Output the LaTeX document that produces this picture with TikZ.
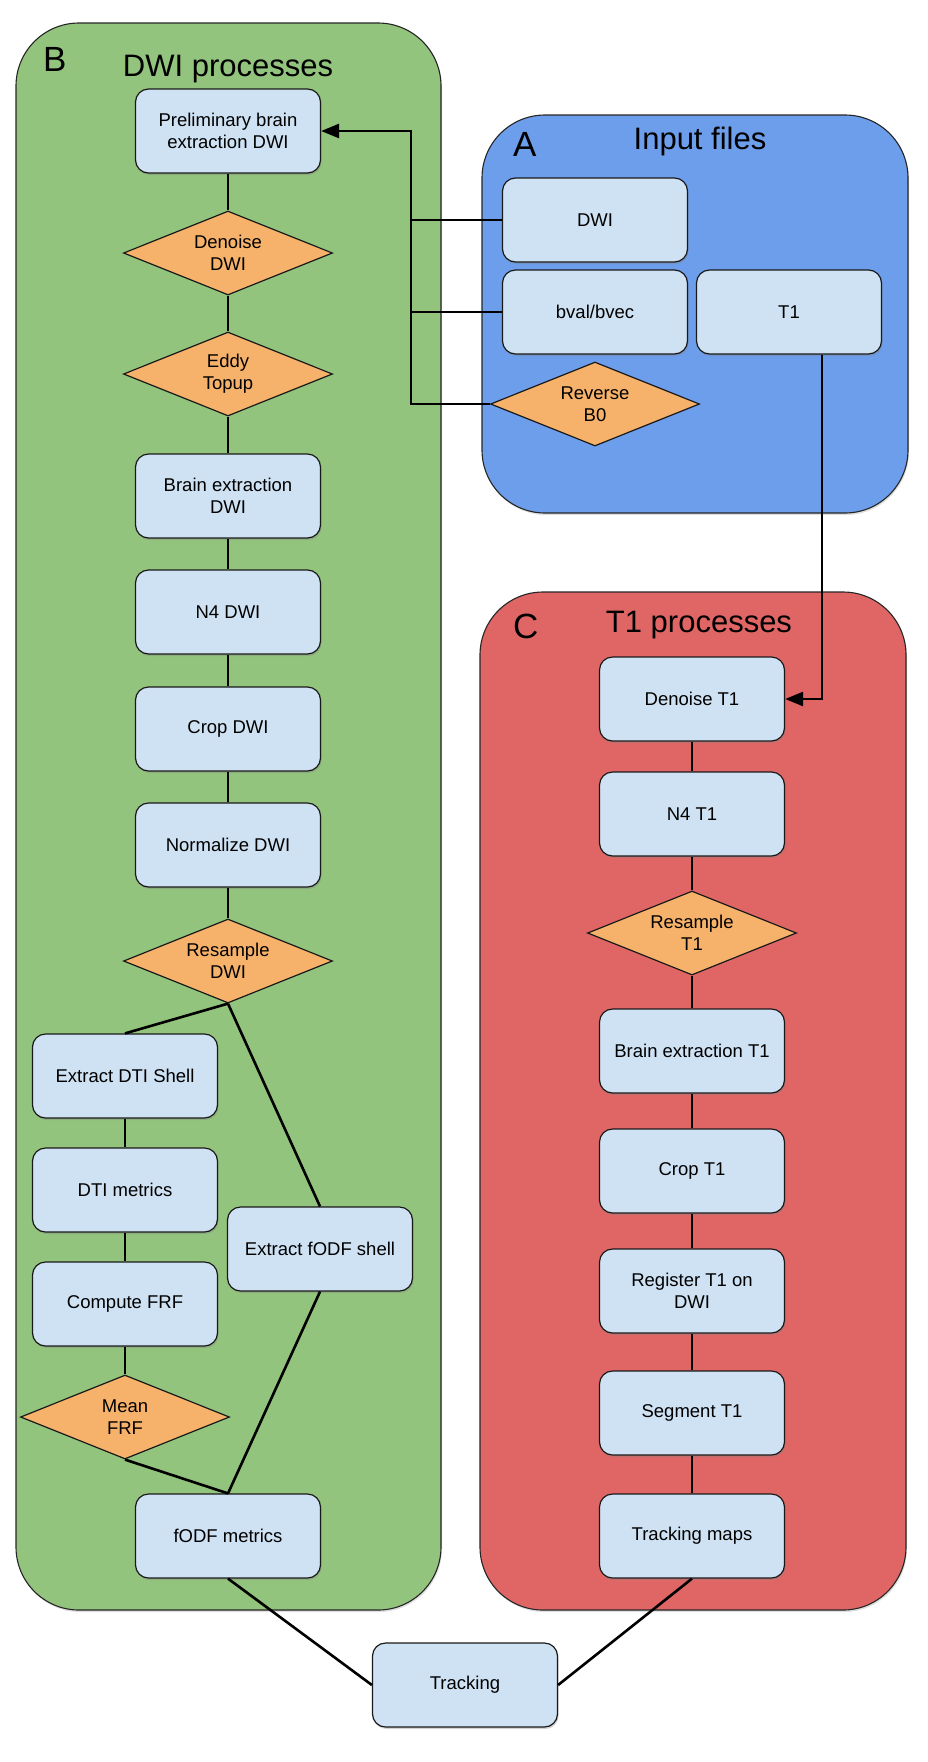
\documentclass[tikz,border=0pt]{standalone}
\usepackage{fontspec}
\setmainfont{Liberation Sans}
\usetikzlibrary{shapes.geometric,arrows.meta,shadows,calc}
\definecolor{cgreen}{HTML}{93C47D}
\definecolor{cblue}{HTML}{6D9EEB}
\definecolor{cred}{HTML}{E06666}
\definecolor{boxblue}{HTML}{CFE2F3}
\definecolor{dorange}{HTML}{F6B26B}
\newcommand\bxfont{\fontsize{18.5}{21.7}\selectfont}
\newcommand\ttlfont{\fontsize{31}{36}\selectfont}
\newcommand\letfont{\fontsize{35}{40}\selectfont}
\begin{document}
\begin{tikzpicture}[x=1pt,y=-1pt,
  container/.style={draw=black!85, line width=1.1pt, rounded corners=63pt, inner sep=0pt,
    drop shadow={opacity=0.25, shadow xshift=1pt, shadow yshift=-2pt}},
  proc/.style={draw=black!90, line width=1.2pt, fill=boxblue, rounded corners=13pt,
    minimum width=185pt, minimum height=84pt, inner sep=0pt, align=center, font=\bxfont,
    drop shadow={opacity=0.35, shadow xshift=1pt, shadow yshift=-2pt}},
  decision/.style={diamond, aspect=2.5, draw=black!90, line width=1.2pt, fill=dorange,
    minimum width=209pt, minimum height=84pt, inner sep=0pt, align=center, font=\bxfont},
  conn/.style={line width=2.6pt, draw=black},
  arrowc/.style={conn, -{Triangle[length=18pt,width=14pt]}},
  ttl/.style={anchor=base, inner sep=0pt, font=\ttlfont},
  lett/.style={anchor=base west, inner sep=0pt, font=\letfont}]
\useasboundingbox (0,0) rectangle (928,1762);

% containers
\node[container, fill=cgreen, minimum width=425pt, minimum height=1587pt] (grpB) at (228.5,816.5) {};
\node[container, fill=cblue, minimum width=426pt, minimum height=398pt] (grpA) at (695,314) {};
\node[container, fill=cred, minimum width=426pt, minimum height=1018pt] (grpC) at (693,1101) {};

% titles
\node[lett] (lB) at (43,71) {B};
\node[ttl] (tB) at (228,76) {DWI processes};
\node[lett] (lA) at (513,156) {A};
\node[ttl] (tA) at (700,149) {Input files};
\node[lett] (lC) at (513,638) {C};
\node[ttl] (tC) at (699,632) {T1 processes};

% DWI processes
\node[proc] (prelim) at (228,131) {Preliminary brain\\extraction DWI};
\node[decision] (dendwi) at (228,253) {Denoise\\DWI};
\node[decision] (eddy) at (228,374) {Eddy\\Topup};
\node[proc] (bedwi) at (228,496) {Brain extraction\\DWI};
\node[proc] (n4dwi) at (228,612) {N4 DWI};
\node[proc] (cropdwi) at (228,729) {Crop DWI};
\node[proc] (normdwi) at (228,845) {Normalize DWI};
\node[decision] (resdwi) at (228,961) {Resample\\DWI};
\node[proc] (exdti) at (125,1076) {Extract DTI Shell};
\node[proc] (dtim) at (125,1190) {DTI metrics};
\node[proc] (cfrf) at (125,1304) {Compute FRF};
\node[decision] (mfrf) at (125,1417) {Mean\\FRF};
\node[proc] (exfodf) at (320,1249) {Extract fODF shell};
\node[proc] (fodfm) at (228,1536) {fODF metrics};

% Input files
\node[proc] (dwi) at (595,220) {DWI};
\node[proc] (bval) at (595,312) {bval/bvec};
\node[proc] (t1) at (789,312) {T1};
\node[decision] (revb0) at (595,404) {Reverse\\B0};

% T1 processes
\node[proc] (dent1) at (692,699) {Denoise T1};
\node[proc] (n4t1) at (692,814) {N4 T1};
\node[decision] (rest1) at (692,933) {Resample\\T1};
\node[proc] (bet1) at (692,1051) {Brain extraction T1};
\node[proc] (cropt1) at (692,1171) {Crop T1};
\node[proc] (regt1) at (692,1291) {Register T1 on\\DWI};
\node[proc] (segt1) at (692,1413) {Segment T1};
\node[proc] (tmaps) at (692,1536) {Tracking maps};

\node[proc] (tracking) at (465,1685) {Tracking};

% connectors: DWI chain
\draw[conn] (prelim.south) -- (dendwi.north);
\draw[conn] (dendwi.south) -- (eddy.north);
\draw[conn] (eddy.south) -- (bedwi.north);
\draw[conn] (bedwi.south) -- (n4dwi.north);
\draw[conn] (n4dwi.south) -- (cropdwi.north);
\draw[conn] (cropdwi.south) -- (normdwi.north);
\draw[conn] (normdwi.south) -- (resdwi.north);
\draw[conn] (resdwi.south) -- (exdti.north);
\draw[conn] (resdwi.south) -- (exfodf.north);
\draw[conn] (exdti.south) -- (dtim.north);
\draw[conn] (dtim.south) -- (cfrf.north);
\draw[conn] (cfrf.south) -- (mfrf.north);
\draw[conn] (mfrf.south) -- (fodfm.north);
\draw[conn] (exfodf.south) -- (fodfm.north);

% connectors: T1 chain
\draw[conn] (dent1.south) -- (n4t1.north);
\draw[conn] (n4t1.south) -- (rest1.north);
\draw[conn] (rest1.south) -- (bet1.north);
\draw[conn] (bet1.south) -- (cropt1.north);
\draw[conn] (cropt1.south) -- (regt1.north);
\draw[conn] (regt1.south) -- (segt1.north);
\draw[conn] (segt1.south) -- (tmaps.north);

% inputs to processes
\coordinate (jtop) at (411,131);
\draw[arrowc] (revb0.west) -| (jtop) -- (prelim.east);
\draw[conn] (dwi.west) -- (dwi.west -| jtop);
\draw[conn] (bval.west) -- (bval.west -| jtop);
\coordinate (tbend) at (822,699);
\draw[arrowc] (t1.south -| tbend) -- (tbend) -- (dent1.east);

% tracking
\draw[conn] (fodfm.south) -- (tracking.west);
\draw[conn] (tmaps.south) -- (tracking.east);
\end{tikzpicture}
\end{document}
